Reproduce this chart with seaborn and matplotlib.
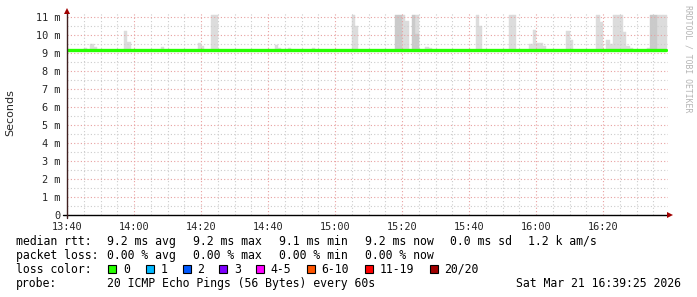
import matplotlib
matplotlib.use("Agg")
import matplotlib.pyplot as plt
import seaborn as sns
import pandas as pd
from matplotlib.patches import Rectangle
from matplotlib.ticker import FixedLocator, MultipleLocator

# ---------------- data (minutes since 13:40, values in ms) ----------------
x_tick_pos = [0, 20, 40, 60, 80, 100, 120, 140, 160]
x_tick_labels = ["13:40", "14:00", "14:20", "14:40", "15:00", "15:20", "15:40", "16:00", "16:20"]
y_tick_pos = [0, 1, 2, 3, 4, 5, 6, 7, 8, 9, 10, 11]
y_tick_labels = ["0", "1 m", "2 m", "3 m", "4 m", "5 m", "6 m", "7 m", "8 m", "9 m", "10 m", "11 m"]

smoke_light_min = [5, 7, 8, 17, 18, 28, 39, 40, 43, 44, 62, 63, 66, 73, 85, 86, 100, 101,
                   104, 107, 108, 122, 123, 132, 133, 138, 139, 140, 141, 142, 149, 150,
                   158, 159, 161, 162, 163, 164, 165, 166, 167, 168, 173, 176, 177, 178]
smoke_light_top = [9.28, 9.5, 9.33, 10.24, 9.63, 9.33, 9.6, 9.39, 11.13, 11.13, 9.46, 9.28,
                   9.28, 9.27, 11.13, 10.5, 11.13, 10.78, 11.13, 9.33, 9.28, 11.13, 10.5,
                   11.13, 11.13, 9.5, 10.3, 9.6, 9.6, 9.4, 10.24, 9.72, 11.13, 10.72, 9.72,
                   9.5, 11.13, 11.13, 11.13, 10.17, 9.4, 9.28, 9.28, 11.13, 11.13, 11.13]
smoke_dark_min = [98, 99, 103, 104, 174, 175]
smoke_dark_top = [11.13, 11.13, 11.13, 10.1, 11.13, 11.13]
smoke_base = 9.12

# median rtt as a step series (breakpoint minute, value)
median_min = [0, 1.5, 7.5, 8.5, 11, 13.5, 24, 25.5, 34, 37, 44, 45, 50, 51, 55, 57, 69, 72,
              81, 82, 84, 87, 91, 92, 107, 108, 119, 121, 127, 129, 131, 132, 133, 135,
              140, 141, 143, 145, 150, 152, 159, 160, 175.5, 177.6, 178.8]
median_val = [9.19, 9.17, 9.19, 9.17, 9.19, 9.17, 9.19, 9.17, 9.19, 9.17, 9.19, 9.17, 9.19,
              9.17, 9.19, 9.17, 9.19, 9.17, 9.19, 9.17, 9.19, 9.17, 9.19, 9.17, 9.19, 9.17,
              9.19, 9.17, 9.19, 9.17, 9.19, 9.17, 9.19, 9.17, 9.19, 9.17, 9.19, 9.17, 9.19,
              9.17, 9.19, 9.17, 9.19, 9.17, 9.17]

loss_labels = ["0", "1", "2", "3", "4-5", "6-10", "11-19", "20/20"]
loss_colors = ["#26ff00", "#00b8ff", "#0059ff", "#7e00ff", "#ff00ff", "#ff5500", "#ff0000", "#a00000"]

legend_rtt = ["9.2 ms avg", "9.2 ms max", "9.1 ms min", "9.2 ms now", "0.0 ms sd", "1.2 k am/s"]
legend_loss = ["0.00 % avg", "0.00 % max", "0.00 % min", "0.00 % now"]
probe_text = "20 ICMP Echo Pings (56 Bytes) every 60s"
date_text = "Sat Mar 21 16:39:25 2026"

# ---------------- figure ----------------
sns.set_style("white")
W, H = 697, 297
fig = plt.figure(figsize=(W / 100, H / 100), dpi=100)
fig.patch.set_facecolor("white")

px0, px1, py_top, py_zero = 67, 668, 13, 215.3
ax = fig.add_axes([px0 / W, 1 - py_zero / H, (px1 - px0) / W, (py_zero - py_top) / H])
ax.set_facecolor("white")
ymax = (py_zero - py_top) / 18.0
ax.set_xlim(0, 179.4)
ax.set_ylim(0, ymax)

# smoke
ax.bar(smoke_light_min, [t - smoke_base for t in smoke_light_top], bottom=smoke_base,
       width=1, align="edge", color="#dcdcdc", edgecolor="#dcdcdc", linewidth=0.3, zorder=1)
ax.bar(smoke_dark_min, [t - smoke_base for t in smoke_dark_top], bottom=smoke_base,
       width=1, align="edge", color="#cacaca", edgecolor="#cacaca", linewidth=0.3, zorder=1.1)

# median line
df = pd.DataFrame({"minute": median_min, "rtt": median_val})
sns.lineplot(data=df, x="minute", y="rtt", ax=ax, drawstyle="steps-post",
             color="#26ff00", linewidth=2.4, zorder=4)

# grid
ax.xaxis.set_major_locator(FixedLocator(x_tick_pos))
ax.xaxis.set_minor_locator(MultipleLocator(5))
ax.yaxis.set_major_locator(FixedLocator(y_tick_pos))
ax.yaxis.set_minor_locator(MultipleLocator(0.5))
ax.set_axisbelow(False)
ax.grid(which="minor", color="#cccccc", linestyle=(0, (1, 2)), linewidth=0.8, zorder=2)
ax.grid(which="major", color="#e8a0a0", linestyle=(0, (1, 2)), linewidth=0.8, zorder=2)

ax.set_xticklabels(x_tick_labels, family="DejaVu Sans Mono", fontsize=7.4)
ax.set_yticklabels(y_tick_labels, family="DejaVu Sans Mono", fontsize=7.4)
ax.tick_params(axis="both", which="major", length=3, width=1, color="black", direction="out")
ax.tick_params(axis="x", which="major", pad=1.5)
ax.tick_params(axis="y", which="major", pad=2.0)
ax.tick_params(axis="both", which="minor", length=0)
ax.set_xlabel("")
ax.set_ylabel("")
for s in ax.spines.values():
    s.set_visible(False)

# axes with arrows
ax.plot([-0.007, 1.0], [0, 0], transform=ax.transAxes, color="black", lw=1, clip_on=False, zorder=6)
ax.plot([0, 0], [-0.015, 1.0], transform=ax.transAxes, color="#402020", lw=1, clip_on=False, zorder=6)
ax.plot([1.004], [0], marker=">", markersize=4, color="#a00000", transform=ax.transAxes,
        clip_on=False, zorder=7, markeredgewidth=0)
ax.plot([0], [1.012], marker="^", markersize=4, color="#a00000", transform=ax.transAxes,
        clip_on=False, zorder=7, markeredgewidth=0)

# labels
fig.text(10 / W, 1 - 113 / H, "Seconds", rotation=90, ha="center", va="center",
         family="DejaVu Sans", fontsize=8)
fig.text(688 / W, 1 - 5 / H, "RRDTOOL / TOBI OETIKER", rotation=270, ha="center", va="top",
         family="DejaVu Sans Mono", fontsize=5.9, color="#b4b4b4")

# legend
mono = dict(family="DejaVu Sans Mono", fontsize=8.3, va="baseline", color="black")
def ftxt(x, y, s, **kw):
    d = dict(mono)
    d.update(kw)
    fig.text(x / W, 1 - y / H, s, **d)

b1, b2, b3, b4 = 245, 259, 272.8, 286.7
ftxt(16, b1, "median rtt:")
for xx, s in zip([107, 193, 279, 365, 450, 528], legend_rtt):
    ftxt(xx, b1, s)
ftxt(16, b2, "packet loss:")
for xx, s in zip([107, 193, 279, 365], legend_loss):
    ftxt(xx, b2, s)
ftxt(16, b3, "loss color:")
box_x = [108.3, 146, 183, 219.3, 256, 307, 365, 430]
for bx, lab, col in zip(box_x, loss_labels, loss_colors):
    fig.add_artist(Rectangle((bx / W, 1 - 272.7 / H), 8 / W, 8 / H, transform=fig.transFigure,
                             facecolor=col, edgecolor="black", linewidth=0.8))
    ftxt(bx + 14.5, b3, lab)
ftxt(16, b4, "probe:")
ftxt(107, b4, probe_text)
ftxt(681, b4, date_text, ha="right")

fig.savefig("out.png", dpi=100, facecolor="white")
